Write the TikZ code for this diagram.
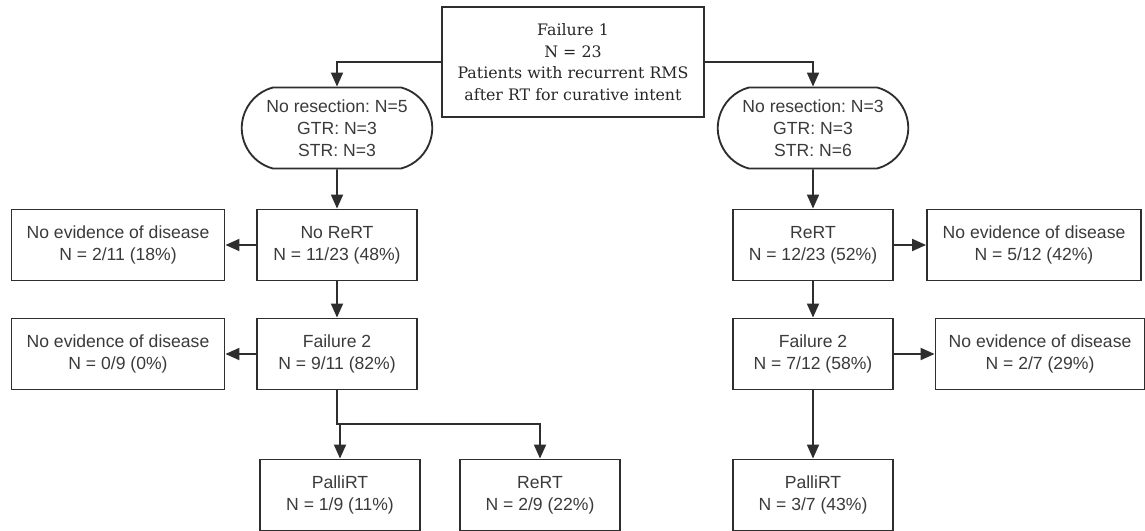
\documentclass[tikz,border=0pt]{standalone}
\usepackage{fontspec}
\setmainfont{Liberation Sans}
\newfontfamily\topserif{DejaVu Serif}
\usetikzlibrary{arrows.meta,shapes.misc}
\definecolor{inkgray}{HTML}{3A3A3A}
\definecolor{linegray}{HTML}{2E2E2E}
\frenchspacing
\begin{document}
\begin{tikzpicture}[x=0.2mm,y=-0.2mm,
  box/.style={draw=linegray,line width=1.05pt,rectangle,minimum height=14.2mm,
    text=inkgray,align=center,inner sep=1pt,font=\fontsize{10}{12.5}\selectfont},
  pill/.style={draw=linegray,line width=1.05pt,rounded rectangle,rounded rectangle arc length=150,
    minimum width=38.8mm,minimum height=16.2mm,text=inkgray,align=center,inner sep=1pt,
    font=\fontsize{10}{12.5}\selectfont},
  arr/.style={draw=linegray,line width=1.05pt,-{Triangle[length=2.8mm,width=2.4mm]}}]
\useasboundingbox (0,0) rectangle (1145,531);
% first failure
\node[box,minimum width=52.4mm,minimum height=22mm,text=black!85,
  font=\topserif\fontsize{9}{12.2}\selectfont] (fail1) at (573,62)
  {Failure 1\\N = 23\\Patients with recurrent RMS\\after RT for curative intent};
\node[pill] (resL) at (337,128) {No resection: N=5\\GTR: N=3\\STR: N=3};
\node[pill] (resR) at (813,128) {No resection: N=3\\GTR: N=3\\STR: N=6};
% left branch
\node[box,minimum width=32mm] (noRe) at (337,245) {No ReRT\\N = 11/23 (48\%)};
\node[box,minimum width=42.6mm] (nedA) at (118,245) {No evidence of disease\\N = 2/11 (18\%)};
\node[box,minimum width=32mm] (failL) at (337,354) {Failure 2\\N = 9/11 (82\%)};
\node[box,minimum width=42.6mm] (nedC) at (118,354) {No evidence of disease\\N = 0/9 (0\%)};
\node[box,minimum width=32mm] (palL) at (340,495) {PalliRT\\N = 1/9 (11\%)};
\node[box,minimum width=32mm] (reB) at (540,495) {ReRT\\N = 2/9 (22\%)};
% right branch
\node[box,minimum width=32mm] (reRT) at (813,245) {ReRT\\N = 12/23 (52\%)};
\node[box,minimum width=42.8mm] (nedB) at (1034,245) {No evidence of disease\\N = 5/12 (42\%)};
\node[box,minimum width=32mm] (failR) at (813,354) {Failure 2\\N = 7/12 (58\%)};
\node[box,minimum width=41.8mm] (nedD) at (1040,354) {No evidence of disease\\N = 2/7 (29\%)};
\node[box,minimum width=32mm] (palR) at (813,495) {PalliRT\\N = 3/7 (43\%)};
\coordinate (split) at (337,424);
% connectors
\draw[arr] (fail1.west) -| (resL.north);
\draw[arr] (fail1.east) -| (resR.north);
\draw[arr] (resL) -- (noRe);
\draw[arr] (resR) -- (reRT);
\draw[arr] (noRe) -- (nedA);
\draw[arr] (failL) -- (nedC);
\draw[arr] (noRe) -- (failL);
\draw[arr] (reRT) -- (nedB);
\draw[arr] (failR) -- (nedD);
\draw[arr] (reRT) -- (failR);
\draw[arr] (failR) -- (palR);
\draw[arr] (failL.south) -- (split) -- (split -| palL.north) -- (palL.north);
\draw[arr] (split) -| (reB.north);
\end{tikzpicture}
\end{document}
